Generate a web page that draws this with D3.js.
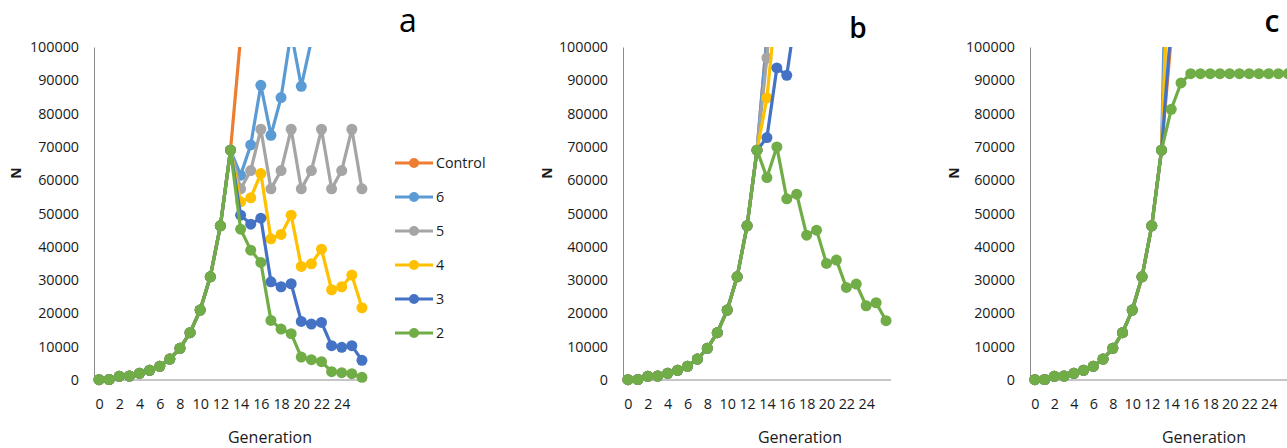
<!DOCTYPE html>
<html>
<head>
<meta charset="utf-8">
<script src="https://cdn.jsdelivr.net/npm/d3@7"></script>
<style>
  body { margin: 0; background: #fff; }
  text { font-family: 'Open Sans', 'Liberation Sans', sans-serif; }
</style>
</head>
<body>
<div id="canvas"></div>
<script>
// categories
const generations = [0, 1, 2, 3, 4, 5, 6, 7, 8, 9, 10, 11, 12, 13, 14, 15, 16, 17, 18, 19, 20, 21, 22, 23, 24, 25, 26];
const x_tick_labels = [0, 2, 4, 6, 8, 10, 12, 14, 16, 18, 20, 22, 24];
const y_tick_labels = [0, 10000, 20000, 30000, 40000, 50000, 60000, 70000, 80000, 90000, 100000];
const series_names = ['Control', '6', '5', '4', '3', '2'];

// growth before treatment starts (generations 0 - 13), same in every run
const early = [100, 150, 1100, 1200, 2000, 2900, 4100, 6300, 9500, 14200, 21000, 31000, 46300, 69000];

// generations 14 - 26, one array per series and panel
const control_late = [103000, 154000, 231000, 346000, 519000, 778000, 1167000, 1750000, 2625000, 3937000, 5905000, 8857000, 13285000];

const a_6 = [61500, 70600, 88500, 73500, 84800, 104500, 88200, 102000, 125000, 106000, 122000, 150000, 127000];
const a_5 = [57400, 62900, 75300, 57400, 62900, 75300, 57400, 62900, 75300, 57400, 62900, 75300, 57400];
const a_4 = [53500, 54700, 62000, 42400, 43700, 49500, 34100, 34900, 39300, 27100, 28000, 31500, 21700];
const a_3 = [49500, 46800, 48600, 29500, 28000, 28900, 17600, 16800, 17300, 10300, 9800, 10300, 5900];
const a_2 = [45300, 39000, 35300, 17900, 15300, 13900, 6900, 6100, 5500, 2500, 2200, 1900, 800];

const b_6 = [103000, 152000, 225000, 330000, 480000, 700000, 1000000, 1450000, 2100000, 3000000, 4300000, 6200000, 9000000];
const b_5 = [96700, 140000, 205000, 300000, 440000, 640000, 930000, 1350000, 1950000, 2800000, 4000000, 5800000, 8400000];
const b_4 = [84700, 115000, 160000, 225000, 315000, 440000, 610000, 850000, 1180000, 1640000, 2280000, 3170000, 4400000];
const b_3 = [72800, 93700, 91500, 112000, 140000, 175000, 220000, 275000, 345000, 430000, 540000, 675000, 845000];
const b_2 = [60800, 70000, 54400, 55800, 43500, 45000, 35000, 36000, 27800, 28800, 22300, 23200, 17800];

const c_6 = [200000, 560000, 1500000, 4000000, 9000000, 15000000, 20000000, 24000000, 26000000, 27000000, 27500000, 27800000, 28000000];
const c_5 = [150000, 320000, 680000, 1400000, 2800000, 5000000, 8000000, 11000000, 13000000, 14500000, 15200000, 15600000, 15800000];
const c_4 = [145000, 300000, 610000, 1200000, 2300000, 4100000, 6500000, 9000000, 11000000, 12300000, 13000000, 13400000, 13600000];
const c_3 = [107000, 165000, 250000, 375000, 550000, 790000, 1100000, 1500000, 1950000, 2450000, 2950000, 3400000, 3750000];
const c_2 = [81300, 89200, 92000, 92000, 92000, 92000, 92000, 92000, 92000, 92000, 92000, 92000, 92000];

const colors = ['#ED7D31', '#5B9BD5', '#A5A5A5', '#FFC000', '#4472C4', '#70AD47'];

const w = 1287,
    h = 448,
    top_y = 47,
    zero_y = 380,
    axis_color = '#8c8c8c',
    label_color = '#1a1a1a';

const panels = [
    { letter: 'a', x0: 94, x1: 367, letter_x: 408, letter_y: 32, letter_size: 32, letter_weight: 400, n_x: 16, gen_x: 270,
      late: [control_late, a_6, a_5, a_4, a_3, a_2], legend: true },
    { letter: 'b', x0: 623, x1: 891, letter_x: 858, letter_y: 38, letter_size: 28, letter_weight: 600, n_x: 547, gen_x: 800,
      late: [control_late, b_6, b_5, b_4, b_3, b_2], legend: false },
    { letter: 'c', x0: 1030, x1: 1293, letter_x: 1272, letter_y: 32, letter_size: 30, letter_weight: 600, n_x: 954, gen_x: 1204,
      late: [control_late, c_6, c_5, c_4, c_3, c_2], legend: false }
];

const svg = d3.select('#canvas').append('svg')
    .attr('width', w)
    .attr('height', h)
    .attr('style', 'background: #fff; display: block');

const y = d3.scaleLinear()
    .domain([0, 100000])
    .range([zero_y, top_y]);

// values above the axis maximum are cut at the top of the plot
svg.append('clipPath')
    .attr('id', 'plot-clip')
  .append('rect')
    .attr('x', 0)
    .attr('y', top_y)
    .attr('width', w)
    .attr('height', h - top_y);

panels.forEach(p => {
    const x = d3.scalePoint()
        .domain(generations)
        .range([p.x0, p.x1])
        .padding(0.5);

    const g = svg.append('g');

    // y axis
    const y_axis = g.append('g')
        .attr('transform', 'translate(' + p.x0 + ',0)')
        .call(d3.axisLeft(y).tickValues(y_tick_labels).tickFormat(d3.format('d')).tickSize(0).tickPadding(15));
    y_axis.select('.domain').attr('stroke', axis_color);
    y_axis.selectAll('text')
        .style('font-size', '14.3px')
        .attr('fill', label_color);

    // x axis
    const x_axis = g.append('g')
        .attr('transform', 'translate(0,' + zero_y + ')')
        .call(d3.axisBottom(x).tickValues(x_tick_labels).tickSize(0).tickPadding(19));
    x_axis.select('.domain')
        .attr('stroke', axis_color)
        .attr('d', 'M' + p.x0 + ',0H' + p.x1);
    x_axis.selectAll('text')
        .style('font-size', '14.3px')
        .attr('fill', label_color);

    // axis titles
    g.append('text')
        .attr('transform', 'translate(' + p.n_x + ',173) rotate(-90)')
        .attr('text-anchor', 'middle')
        .attr('dy', '0.35em')
        .style('font-size', '14px')
        .style('font-weight', 700)
        .attr('fill', label_color)
        .text('N');

    g.append('text')
        .attr('x', p.gen_x)
        .attr('y', 443)
        .attr('text-anchor', 'middle')
        .style('font-size', '16px')
        .attr('fill', label_color)
        .text('Generation');

    g.append('text')
        .attr('x', p.letter_x)
        .attr('y', p.letter_y)
        .attr('text-anchor', 'middle')
        .style('font-size', p.letter_size + 'px')
        .style('font-weight', p.letter_weight)
        .attr('fill', '#000')
        .text(p.letter);

    // series
    const plot = g.append('g').attr('clip-path', 'url(#plot-clip)');
    const line = d3.line()
        .x((d, i) => x(generations[i]))
        .y(d => y(d));

    p.late.forEach((late, k) => {
        const values = early.concat(late);
        plot.append('path')
            .datum(values)
            .attr('d', line)
            .attr('fill', 'none')
            .attr('stroke', colors[k])
            .attr('stroke-width', 3.2)
            .attr('stroke-linejoin', 'round');

        plot.selectAll(null)
            .data(values)
            .join('circle')
            .attr('cx', (d, i) => x(generations[i]))
            .attr('cy', d => y(d))
            .attr('r', 5.5)
            .attr('fill', colors[k]);
    });

    // legend
    if (p.legend) {
        const legend = g.append('g');
        series_names.forEach((name, k) => {
            const ly = 163 + k * 34;
            legend.append('line')
                .attr('x1', 395)
                .attr('x2', 433)
                .attr('y1', ly)
                .attr('y2', ly)
                .attr('stroke', colors[k])
                .attr('stroke-width', 3.2);
            legend.append('circle')
                .attr('cx', 414)
                .attr('cy', ly)
                .attr('r', 5)
                .attr('fill', colors[k]);
            legend.append('text')
                .attr('x', 436)
                .attr('y', ly)
                .attr('dy', '0.35em')
                .style('font-size', '14.3px')
                .attr('fill', label_color)
                .text(name);
        });
    }
});
</script>
</body>
</html>
